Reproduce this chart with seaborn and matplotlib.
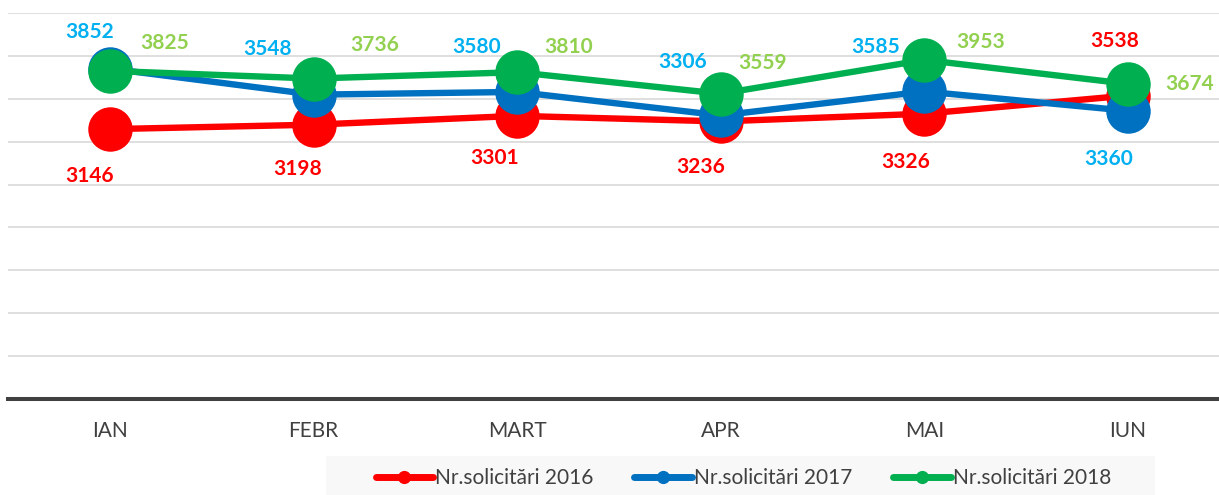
import seaborn as sns
import matplotlib.pyplot as plt
import pandas as pd
from matplotlib.lines import Line2D
from matplotlib.patches import Rectangle

# data
luni = ["IAN", "FEBR", "MART", "APR", "MAI", "IUN"]
serii = ["Nr.solicitări 2016", "Nr.solicitări 2017", "Nr.solicitări 2018"]
val_2016 = [3146, 3198, 3301, 3236, 3326, 3538]
val_2017 = [3852, 3548, 3580, 3306, 3585, 3360]
val_2018 = [3825, 3736, 3810, 3559, 3953, 3674]

culori_linii = ["#FF0000", "#0070C0", "#00B050"]
culori_etichete = ["#FF0000", "#00B0F0", "#92D050"]

# label offsets in pixels (dx, dy) relative to each point
dep_2016 = [(-20, -47), (-16, -44), (-23, -42), (-20, -46), (-19, -48), (-13, 55)]
dep_2017 = [(-20, 37), (-46, 46), (-41, 45), (-38, 53), (-49, 44), (-19, -48)]
dep_2018 = [(55, 28), (61, 34), (51, 25), (42, 31), (56, 18), (62, 0)]

valori = [val_2016, val_2017, val_2018]
deplasari = [dep_2016, dep_2017, dep_2018]

rows = []
for s, vals in zip(serii, valori):
    for l, v in zip(luni, vals):
        rows.append({"luna": l, "serie": s, "valoare": v})
df = pd.DataFrame(rows)

sns.set_style("white")
plt.rcParams["font.family"] = ["Lato", "DejaVu Sans"]

W, H = 1219, 495
fig = plt.figure(figsize=(W / 100, H / 100), dpi=100)
ax = fig.add_axes([8.2 / W, 96 / H, 1221.6 / W, 386 / H])

sns.lineplot(data=df, x="luna", y="valoare", hue="serie", palette=culori_linii,
             marker="o", markersize=32, markeredgewidth=0, linewidth=4.6,
             sort=False, legend=False, ax=ax)

for lines in ax.get_lines():
    lines.set_clip_on(False)

ax.set_xlim(-0.5, 5.5)
ax.set_ylim(0, 4500)
ax.set_yticks(range(0, 4501, 500))
ax.set_yticklabels([])
ax.yaxis.grid(True, color="#d9d9d9", linewidth=1.2)
ax.set_axisbelow(True)
ax.set_xlabel("")
ax.set_ylabel("")
for side in ["top", "left", "right"]:
    ax.spines[side].set_visible(False)
ax.spines["bottom"].set_color("#404040")
ax.spines["bottom"].set_linewidth(2.9)
ax.tick_params(axis="x", length=0, pad=16, labelsize=15, labelcolor="#404040")
ax.tick_params(axis="y", length=0)

for vals, deps, col in zip(valori, deplasari, culori_etichete):
    for i, (v, d) in enumerate(zip(vals, deps)):
        ax.annotate(str(v), (i, v), xytext=d, textcoords="offset pixels",
                    ha="center", va="center", fontsize=15, fontweight="bold",
                    color=col, annotation_clip=False)

# legend background strip
fig.patches.append(Rectangle((326 / W, 0), 829 / W, 39 / H, transform=fig.transFigure,
                             facecolor="#f8f8f8", edgecolor="none", zorder=0))

handles = [Line2D([], [], color=c, linewidth=5, marker="o", markersize=9.5,
                  markeredgewidth=0) for c in culori_linii]
leg = fig.legend(handles, serii, loc="center", bbox_to_anchor=(743.5 / W, 17 / H),
                 ncol=3, frameon=False, fontsize=15, handlelength=2.75,
                 handletextpad=0.12, columnspacing=1.95)
for t in leg.get_texts():
    t.set_color("#404040")

fig.savefig("out.png", dpi=100)
